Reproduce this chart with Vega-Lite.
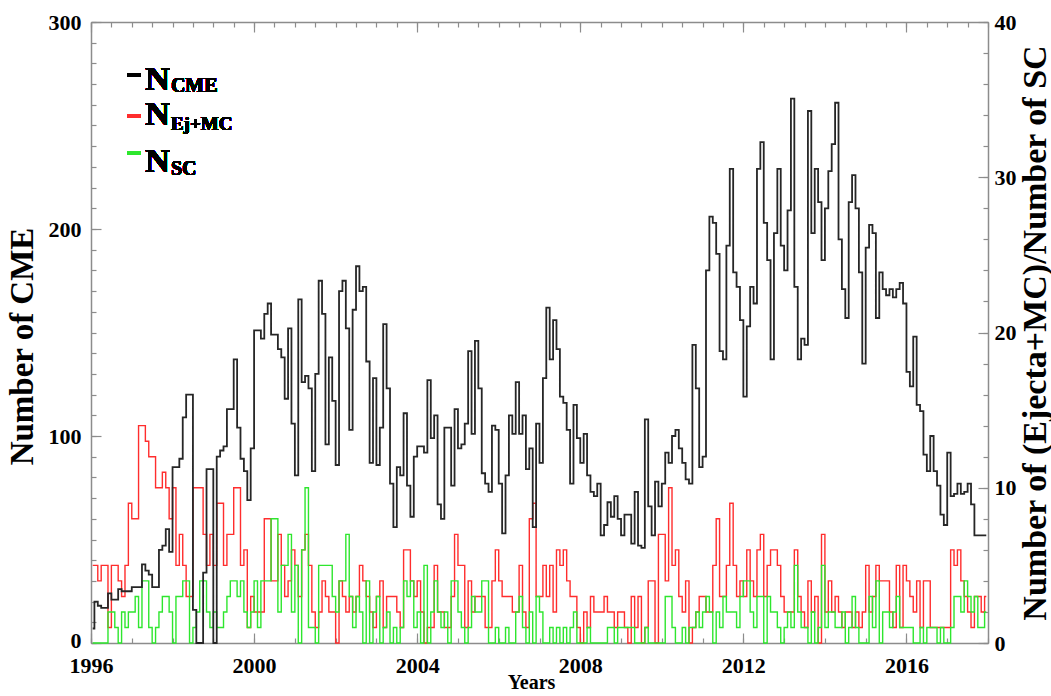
{
"$schema":"https://vega.github.io/schema/vega-lite/v6.json",
"width":897,"height":621,
"autosize":{"type":"none"},
"padding":{"left":91,"top":22,"right":63,"bottom":53},
"background":"white",
"config":{"view":{"stroke":null},"font":"Liberation Serif",
 "axis":{"labelFont":"Liberation Serif","labelFontWeight":"bold","labelFontSize":22,"labelColor":"black","titleFont":"Liberation Serif","titleFontWeight":"bold","titleColor":"black","domainColor":"#8c8c8c","domainWidth":1.5,"tickColor":"#8c8c8c","tickWidth":1.2,"grid":false,"labelFlush":false,"labelOverlap":false}},
"data":{"values":[
{"t":1996.042,"cme":7,"ej":5,"sc":0},{"t":1996.125,"cme":20,"ej":5,"sc":0},{"t":1996.208,"cme":18,"ej":4,"sc":0},{"t":1996.292,"cme":17,"ej":5,"sc":0},{"t":1996.375,"cme":17,"ej":5,"sc":0},{"t":1996.458,"cme":24,"ej":1,"sc":2},{"t":1996.542,"cme":21,"ej":5,"sc":2},{"t":1996.625,"cme":21,"ej":5,"sc":1},{"t":1996.708,"cme":26,"ej":4,"sc":0},{"t":1996.792,"cme":25,"ej":3,"sc":2},{"t":1996.875,"cme":25,"ej":5,"sc":1},{"t":1996.958,"cme":25,"ej":9,"sc":2},
{"t":1997.042,"cme":27,"ej":8,"sc":2},{"t":1997.125,"cme":27,"ej":8,"sc":3},{"t":1997.208,"cme":27,"ej":14,"sc":1},{"t":1997.292,"cme":38,"ej":14,"sc":4},{"t":1997.375,"cme":35,"ej":13,"sc":4},{"t":1997.458,"cme":33,"ej":12,"sc":1},{"t":1997.542,"cme":27,"ej":12,"sc":0},{"t":1997.625,"cme":27,"ej":10,"sc":1},{"t":1997.708,"cme":45,"ej":10,"sc":2},{"t":1997.792,"cme":47,"ej":11,"sc":3},{"t":1997.875,"cme":55,"ej":10,"sc":3},{"t":1997.958,"cme":44,"ej":8,"sc":2},
{"t":1998.042,"cme":85,"ej":10,"sc":0},{"t":1998.125,"cme":85,"ej":5,"sc":3},{"t":1998.208,"cme":89,"ej":7,"sc":3},{"t":1998.292,"cme":109,"ej":5,"sc":4},{"t":1998.375,"cme":120,"ej":3,"sc":4},{"t":1998.458,"cme":120,"ej":3,"sc":0},{"t":1998.542,"cme":16,"ej":10,"sc":1},{"t":1998.625,"cme":0,"ej":10,"sc":2},{"t":1998.708,"cme":0,"ej":10,"sc":4},{"t":1998.792,"cme":34,"ej":7,"sc":4},{"t":1998.875,"cme":84,"ej":5,"sc":2},{"t":1998.958,"cme":84,"ej":7,"sc":1},
{"t":1999.042,"cme":0,"ej":5,"sc":2},{"t":1999.125,"cme":90,"ej":9,"sc":1},{"t":1999.208,"cme":93,"ej":9,"sc":1},{"t":1999.292,"cme":95,"ej":5,"sc":2},{"t":1999.375,"cme":113,"ej":7,"sc":3},{"t":1999.458,"cme":113,"ej":7,"sc":4},{"t":1999.542,"cme":137,"ej":10,"sc":4},{"t":1999.625,"cme":104,"ej":10,"sc":3},{"t":1999.708,"cme":89,"ej":5,"sc":4},{"t":1999.792,"cme":83,"ej":6,"sc":2},{"t":1999.875,"cme":69,"ej":1,"sc":1},{"t":1999.958,"cme":94,"ej":3,"sc":2},
{"t":2000.042,"cme":151,"ej":2,"sc":4},{"t":2000.125,"cme":151,"ej":2,"sc":1},{"t":2000.208,"cme":147,"ej":2,"sc":4},{"t":2000.292,"cme":159,"ej":8,"sc":4},{"t":2000.375,"cme":164,"ej":8,"sc":4},{"t":2000.458,"cme":149,"ej":4,"sc":8},{"t":2000.542,"cme":149,"ej":4,"sc":8},{"t":2000.625,"cme":142,"ej":7,"sc":2},{"t":2000.708,"cme":138,"ej":5,"sc":5},{"t":2000.792,"cme":118,"ej":3,"sc":5},{"t":2000.875,"cme":152,"ej":4,"sc":7},{"t":2000.958,"cme":106,"ej":6,"sc":2},
{"t":2001.042,"cme":81,"ej":5,"sc":5},{"t":2001.125,"cme":166,"ej":3,"sc":0},{"t":2001.208,"cme":126,"ej":6,"sc":6},{"t":2001.292,"cme":129,"ej":7,"sc":10},{"t":2001.375,"cme":123,"ej":5,"sc":1},{"t":2001.458,"cme":83,"ej":2,"sc":1},{"t":2001.542,"cme":130,"ej":1,"sc":0},{"t":2001.625,"cme":175,"ej":2,"sc":5},{"t":2001.708,"cme":159,"ej":4,"sc":5},{"t":2001.792,"cme":96,"ej":3,"sc":5},{"t":2001.875,"cme":138,"ej":2,"sc":5},{"t":2001.958,"cme":117,"ej":2,"sc":3},
{"t":2002.042,"cme":86,"ej":0,"sc":2},{"t":2002.125,"cme":170,"ej":4,"sc":4},{"t":2002.208,"cme":175,"ej":3,"sc":4},{"t":2002.292,"cme":152,"ej":2,"sc":7},{"t":2002.375,"cme":103,"ej":3,"sc":3},{"t":2002.458,"cme":161,"ej":2,"sc":1},{"t":2002.542,"cme":182,"ej":3,"sc":3},{"t":2002.625,"cme":170,"ej":5,"sc":2},{"t":2002.708,"cme":172,"ej":4,"sc":0},{"t":2002.792,"cme":136,"ej":3,"sc":4},{"t":2002.875,"cme":87,"ej":2,"sc":0},{"t":2002.958,"cme":128,"ej":1,"sc":2},
{"t":2003.042,"cme":86,"ej":3,"sc":3},{"t":2003.125,"cme":104,"ej":4,"sc":0},{"t":2003.208,"cme":154,"ej":1,"sc":1},{"t":2003.292,"cme":123,"ej":3,"sc":2},{"t":2003.375,"cme":77,"ej":3,"sc":0},{"t":2003.458,"cme":56,"ej":3,"sc":1},{"t":2003.542,"cme":85,"ej":2,"sc":0},{"t":2003.625,"cme":81,"ej":1,"sc":1},{"t":2003.708,"cme":111,"ej":6,"sc":4},{"t":2003.792,"cme":76,"ej":6,"sc":3},{"t":2003.875,"cme":61,"ej":4,"sc":4},{"t":2003.958,"cme":90,"ej":3,"sc":1},
{"t":2004.042,"cme":95,"ej":4,"sc":2},{"t":2004.125,"cme":95,"ej":2,"sc":0},{"t":2004.208,"cme":92,"ej":0,"sc":5},{"t":2004.292,"cme":127,"ej":1,"sc":0},{"t":2004.375,"cme":99,"ej":1,"sc":2},{"t":2004.458,"cme":110,"ej":5,"sc":4},{"t":2004.542,"cme":67,"ej":2,"sc":2},{"t":2004.625,"cme":60,"ej":2,"sc":1},{"t":2004.708,"cme":104,"ej":1,"sc":2},{"t":2004.792,"cme":104,"ej":1,"sc":0},{"t":2004.875,"cme":76,"ej":3,"sc":4},{"t":2004.958,"cme":113,"ej":7,"sc":4},
{"t":2005.042,"cme":94,"ej":5,"sc":2},{"t":2005.125,"cme":96,"ej":5,"sc":1},{"t":2005.208,"cme":106,"ej":1,"sc":0},{"t":2005.292,"cme":141,"ej":4,"sc":1},{"t":2005.375,"cme":101,"ej":2,"sc":3},{"t":2005.458,"cme":146,"ej":3,"sc":2},{"t":2005.542,"cme":123,"ej":3,"sc":2},{"t":2005.625,"cme":82,"ej":3,"sc":4},{"t":2005.708,"cme":77,"ej":1,"sc":4},{"t":2005.792,"cme":73,"ej":1,"sc":0},{"t":2005.875,"cme":105,"ej":4,"sc":0},{"t":2005.958,"cme":103,"ej":6,"sc":1},
{"t":2006.042,"cme":77,"ej":4,"sc":0},{"t":2006.125,"cme":53,"ej":3,"sc":0},{"t":2006.208,"cme":81,"ej":3,"sc":1},{"t":2006.292,"cme":110,"ej":3,"sc":0},{"t":2006.375,"cme":101,"ej":2,"sc":0},{"t":2006.458,"cme":126,"ej":2,"sc":2},{"t":2006.542,"cme":101,"ej":5,"sc":3},{"t":2006.625,"cme":110,"ej":2,"sc":1},{"t":2006.708,"cme":84,"ej":1,"sc":0},{"t":2006.792,"cme":94,"ej":8,"sc":2},{"t":2006.875,"cme":56,"ej":9,"sc":0},{"t":2006.958,"cme":106,"ej":3,"sc":3},
{"t":2007.042,"cme":87,"ej":3,"sc":2},{"t":2007.125,"cme":128,"ej":5,"sc":0},{"t":2007.208,"cme":162,"ej":3,"sc":0},{"t":2007.292,"cme":137,"ej":5,"sc":1},{"t":2007.375,"cme":156,"ej":2,"sc":0},{"t":2007.458,"cme":142,"ej":6,"sc":1},{"t":2007.542,"cme":119,"ej":5,"sc":0},{"t":2007.625,"cme":116,"ej":6,"sc":1},{"t":2007.708,"cme":103,"ej":4,"sc":0},{"t":2007.792,"cme":77,"ej":3,"sc":1},{"t":2007.875,"cme":115,"ej":3,"sc":2},{"t":2007.958,"cme":99,"ej":1,"sc":0},
{"t":2008.042,"cme":87,"ej":0,"sc":0},{"t":2008.125,"cme":101,"ej":2,"sc":0},{"t":2008.208,"cme":81,"ej":1,"sc":1},{"t":2008.292,"cme":73,"ej":3,"sc":0},{"t":2008.375,"cme":71,"ej":2,"sc":0},{"t":2008.458,"cme":77,"ej":2,"sc":0},{"t":2008.542,"cme":52,"ej":2,"sc":0},{"t":2008.625,"cme":57,"ej":3,"sc":0},{"t":2008.708,"cme":68,"ej":2,"sc":1},{"t":2008.792,"cme":61,"ej":2,"sc":1},{"t":2008.875,"cme":71,"ej":1,"sc":0},{"t":2008.958,"cme":60,"ej":2,"sc":1},
{"t":2009.042,"cme":52,"ej":2,"sc":1},{"t":2009.125,"cme":62,"ej":1,"sc":1},{"t":2009.208,"cme":62,"ej":0,"sc":1},{"t":2009.292,"cme":48,"ej":3,"sc":1},{"t":2009.375,"cme":73,"ej":1,"sc":0},{"t":2009.458,"cme":47,"ej":3,"sc":0},{"t":2009.542,"cme":46,"ej":0,"sc":0},{"t":2009.625,"cme":108,"ej":1,"sc":1},{"t":2009.708,"cme":66,"ej":4,"sc":0},{"t":2009.792,"cme":52,"ej":4,"sc":0},{"t":2009.875,"cme":78,"ej":0,"sc":0},{"t":2009.958,"cme":66,"ej":7,"sc":0},
{"t":2010.042,"cme":77,"ej":7,"sc":0},{"t":2010.125,"cme":92,"ej":4,"sc":3},{"t":2010.208,"cme":87,"ej":10,"sc":3},{"t":2010.292,"cme":100,"ej":5,"sc":1},{"t":2010.375,"cme":103,"ej":6,"sc":0},{"t":2010.458,"cme":94,"ej":3,"sc":0},{"t":2010.542,"cme":87,"ej":2,"sc":1},{"t":2010.625,"cme":79,"ej":4,"sc":0},{"t":2010.708,"cme":77,"ej":0,"sc":1},{"t":2010.792,"cme":144,"ej":1,"sc":1},{"t":2010.875,"cme":123,"ej":2,"sc":2},{"t":2010.958,"cme":85,"ej":3,"sc":1},
{"t":2011.042,"cme":90,"ej":3,"sc":2},{"t":2011.125,"cme":180,"ej":2,"sc":3},{"t":2011.208,"cme":206,"ej":2,"sc":2},{"t":2011.292,"cme":203,"ej":5,"sc":0},{"t":2011.375,"cme":188,"ej":8,"sc":2},{"t":2011.458,"cme":141,"ej":3,"sc":1},{"t":2011.542,"cme":137,"ej":3,"sc":3},{"t":2011.625,"cme":192,"ej":5,"sc":2},{"t":2011.708,"cme":229,"ej":9,"sc":2},{"t":2011.792,"cme":179,"ej":5,"sc":2},{"t":2011.875,"cme":172,"ej":3,"sc":1},{"t":2011.958,"cme":156,"ej":4,"sc":3},
{"t":2012.042,"cme":119,"ej":3,"sc":4},{"t":2012.125,"cme":153,"ej":6,"sc":4},{"t":2012.208,"cme":172,"ej":4,"sc":2},{"t":2012.292,"cme":164,"ej":3,"sc":1},{"t":2012.375,"cme":229,"ej":6,"sc":3},{"t":2012.458,"cme":242,"ej":7,"sc":3},{"t":2012.542,"cme":203,"ej":3,"sc":0},{"t":2012.625,"cme":185,"ej":5,"sc":3},{"t":2012.708,"cme":137,"ej":6,"sc":2},{"t":2012.792,"cme":198,"ej":6,"sc":2},{"t":2012.875,"cme":229,"ej":5,"sc":1},{"t":2012.958,"cme":192,"ej":3,"sc":0},
{"t":2013.042,"cme":180,"ej":2,"sc":1},{"t":2013.125,"cme":209,"ej":2,"sc":2},{"t":2013.208,"cme":263,"ej":2,"sc":1},{"t":2013.292,"cme":172,"ej":6,"sc":5},{"t":2013.375,"cme":137,"ej":3,"sc":2},{"t":2013.458,"cme":147,"ej":2,"sc":1},{"t":2013.542,"cme":144,"ej":1,"sc":1},{"t":2013.625,"cme":257,"ej":4,"sc":0},{"t":2013.708,"cme":198,"ej":2,"sc":2},{"t":2013.792,"cme":229,"ej":3,"sc":0},{"t":2013.875,"cme":213,"ej":0,"sc":1},{"t":2013.958,"cme":185,"ej":7,"sc":5},
{"t":2014.042,"cme":210,"ej":2,"sc":1},{"t":2014.125,"cme":228,"ej":4,"sc":2},{"t":2014.208,"cme":241,"ej":2,"sc":2},{"t":2014.292,"cme":261,"ej":3,"sc":1},{"t":2014.375,"cme":195,"ej":2,"sc":1},{"t":2014.458,"cme":171,"ej":1,"sc":2},{"t":2014.542,"cme":157,"ej":2,"sc":0},{"t":2014.625,"cme":213,"ej":2,"sc":1},{"t":2014.708,"cme":226,"ej":1,"sc":3},{"t":2014.792,"cme":210,"ej":2,"sc":1},{"t":2014.875,"cme":179,"ej":1,"sc":0},{"t":2014.958,"cme":135,"ej":2,"sc":0},
{"t":2015.042,"cme":191,"ej":5,"sc":0},{"t":2015.125,"cme":202,"ej":2,"sc":3},{"t":2015.208,"cme":198,"ej":3,"sc":1},{"t":2015.292,"cme":157,"ej":5,"sc":4},{"t":2015.375,"cme":179,"ej":4,"sc":0},{"t":2015.458,"cme":171,"ej":4,"sc":2},{"t":2015.542,"cme":168,"ej":4,"sc":2},{"t":2015.625,"cme":171,"ej":2,"sc":1},{"t":2015.708,"cme":167,"ej":1,"sc":2},{"t":2015.792,"cme":171,"ej":5,"sc":3},{"t":2015.875,"cme":174,"ej":1,"sc":1},{"t":2015.958,"cme":164,"ej":5,"sc":1},
{"t":2016.042,"cme":131,"ej":4,"sc":1},{"t":2016.125,"cme":124,"ej":3,"sc":1},{"t":2016.208,"cme":148,"ej":2,"sc":0},{"t":2016.292,"cme":115,"ej":4,"sc":0},{"t":2016.375,"cme":112,"ej":1,"sc":1},{"t":2016.458,"cme":91,"ej":4,"sc":0},{"t":2016.542,"cme":83,"ej":4,"sc":1},{"t":2016.625,"cme":100,"ej":1,"sc":1},{"t":2016.708,"cme":83,"ej":1,"sc":1},{"t":2016.792,"cme":76,"ej":1,"sc":0},{"t":2016.875,"cme":62,"ej":1,"sc":1},{"t":2016.958,"cme":57,"ej":1,"sc":0},
{"t":2017.042,"cme":92,"ej":1,"sc":0},{"t":2017.125,"cme":71,"ej":6,"sc":1},{"t":2017.208,"cme":72,"ej":5,"sc":3},{"t":2017.292,"cme":77,"ej":6,"sc":3},{"t":2017.375,"cme":72,"ej":4,"sc":2},{"t":2017.458,"cme":73,"ej":3,"sc":4},{"t":2017.542,"cme":77,"ej":2,"sc":3},{"t":2017.625,"cme":67,"ej":1,"sc":2},{"t":2017.708,"cme":52,"ej":3,"sc":3},{"t":2017.792,"cme":52,"ej":3,"sc":1},{"t":2017.875,"cme":52,"ej":2,"sc":1},{"t":2017.958,"cme":52,"ej":3,"sc":2}
]},
"layer":[
 {"mark":{"type":"line","interpolate":"step","color":"#ff2d2d","strokeWidth":1.4},
  "encoding":{
   "x":{"field":"t","type":"quantitative","scale":{"domain":[1996,2018],"nice":false,"zero":false},
     "axis":{"orient":"top","values":[1996,1996.5,1997,1997.5,1998,1998.5,1999,1999.5,2000,2000.5,2001,2001.5,2002,2002.5,2003,2003.5,2004,2004.5,2005,2005.5,2006,2006.5,2007,2007.5,2008,2008.5,2009,2009.5,2010,2010.5,2011,2011.5,2012,2012.5,2013,2013.5,2014,2014.5,2015,2015.5,2016,2016.5,2017,2017.5,2018],"labels":false,"tickSize":-5,"title":null}},
   "y":{"field":"ej","type":"quantitative","scale":{"domain":[0,40],"nice":false,"zero":true},
     "axis":{"orient":"right","values":[0,2,4,6,8,10,12,14,16,18,20,22,24,26,28,30,32,34,36,38,40],"format":"d","labelExpr":"datum.value % 10 === 0 ? datum.label : ''","tickSize":-5,"labelPadding":11,"title":"Number of (Ejecta+MC)/Number of SC","titleAngle":270,"titleBaseline":"top","titleFontSize":34,"titlePadding":2}}}},
 {"mark":{"type":"line","interpolate":"step","color":"#2ee62e","strokeWidth":1.4},
  "encoding":{
   "x":{"field":"t","type":"quantitative","scale":{"domain":[1996,2018],"nice":false,"zero":false},
     "axis":{"orient":"bottom","values":[1996,2000,2004,2008,2012,2016],"labels":false,"tickSize":-10,"domain":false,"title":null}},
   "y":{"field":"sc","type":"quantitative","scale":{"domain":[0,40],"nice":false,"zero":true},
     "axis":{"orient":"left","values":[0,13.3333,26.6667,40],"labels":false,"tickSize":-10,"domain":false,"title":null}}}},
 {"mark":{"type":"line","interpolate":"step","color":"#262626","strokeWidth":1.8},
  "encoding":{
   "x":{"field":"t","type":"quantitative","scale":{"domain":[1996,2018],"nice":false,"zero":false},
     "axis":{"orient":"bottom","values":[1996,1996.5,1997,1997.5,1998,1998.5,1999,1999.5,2000,2000.5,2001,2001.5,2002,2002.5,2003,2003.5,2004,2004.5,2005,2005.5,2006,2006.5,2007,2007.5,2008,2008.5,2009,2009.5,2010,2010.5,2011,2011.5,2012,2012.5,2013,2013.5,2014,2014.5,2015,2015.5,2016,2016.5,2017,2017.5,2018],"format":"d","labelExpr":"datum.value % 4 === 0 ? datum.label : ''","tickSize":-5,"labelPadding":17,"title":"Years","titleFontSize":20,"titlePadding":-4,"titleX":440}},
   "y":{"field":"cme","type":"quantitative","scale":{"domain":[0,300],"nice":false,"zero":true},
     "axis":{"orient":"left","values":[0,10,20,30,40,50,60,70,80,90,100,110,120,130,140,150,160,170,180,190,200,210,220,230,240,250,260,270,280,290,300],"format":"d","labelExpr":"datum.value % 100 === 0 ? datum.label : ''","labelOffset":{"condition":{"test":"datum.value === 0","value":-3},"value":0},"tickSize":-5,"labelPadding":15,"title":"Number of CME","titleFontSize":33,"titlePadding":9,"titleY":324}}}},
 {"layer":[
   {"mark":{"type":"rule","color":"black","strokeWidth":2.5},
    "encoding":{
     "x":{"datum":1996.887,"type":"quantitative","scale":{"domain":[1996,2018],"nice":false,"zero":false},
       "axis":{"orient":"top","values":[1996,2000,2004,2008,2012,2016],"labels":false,"tickSize":-10,"domain":false,"title":null}},
     "x2":{"datum":1997.207},
     "y":{"datum":274.4,"type":"quantitative","scale":{"domain":[0,300],"nice":false,"zero":true},
       "axis":{"orient":"right","values":[0,75,150,225,300],"labels":false,"tickSize":-10,"domain":false,"title":null}}}},
   {"mark":{"type":"rule","color":"#ff2d2d","strokeWidth":2.5},
    "encoding":{"x":{"datum":1996.887,"type":"quantitative"},"x2":{"datum":1997.207},"y":{"datum":254.6,"type":"quantitative"}}},
   {"mark":{"type":"rule","color":"#2ee62e","strokeWidth":2.5},
    "encoding":{"x":{"datum":1996.887,"type":"quantitative"},"x2":{"datum":1997.207},"y":{"datum":236.7,"type":"quantitative"}}},
   {"mark":{"type":"text","text":"N","font":"Liberation Serif","fontWeight":"bold","fontSize":34,"align":"left","baseline":"alphabetic","color":"black"},
    "encoding":{"x":{"datum":1997.33,"type":"quantitative"},"y":{"datum":267.1,"type":"quantitative"}}},
   {"mark":{"type":"text","text":"N","font":"Liberation Serif","fontWeight":"bold","fontSize":34,"align":"left","baseline":"alphabetic","color":"black"},
    "encoding":{"x":{"datum":1997.33,"type":"quantitative"},"y":{"datum":250.2,"type":"quantitative"}}},
   {"mark":{"type":"text","text":"N","font":"Liberation Serif","fontWeight":"bold","fontSize":34,"align":"left","baseline":"alphabetic","color":"black"},
    "encoding":{"x":{"datum":1997.33,"type":"quantitative"},"y":{"datum":227.5,"type":"quantitative"}}},
   {"mark":{"type":"text","text":"CME","font":"Liberation Serif","fontWeight":"bold","fontSize":20,"align":"left","baseline":"alphabetic","color":"black"},
    "encoding":{"x":{"datum":1997.96,"type":"quantitative"},"y":{"datum":266.0,"type":"quantitative"}}},
   {"mark":{"type":"text","text":"Ej+MC","font":"Liberation Serif","fontWeight":"bold","fontSize":19,"align":"left","baseline":"alphabetic","color":"black"},
    "encoding":{"x":{"datum":1997.96,"type":"quantitative"},"y":{"datum":248.0,"type":"quantitative"}}},
   {"mark":{"type":"text","text":"SC","font":"Liberation Serif","fontWeight":"bold","fontSize":20,"align":"left","baseline":"alphabetic","color":"black"},
    "encoding":{"x":{"datum":1997.96,"type":"quantitative"},"y":{"datum":226.0,"type":"quantitative"}}}
 ]}
],
"resolve":{"scale":{"y":"independent"},"axis":{"x":"independent","y":"independent"}}
}
